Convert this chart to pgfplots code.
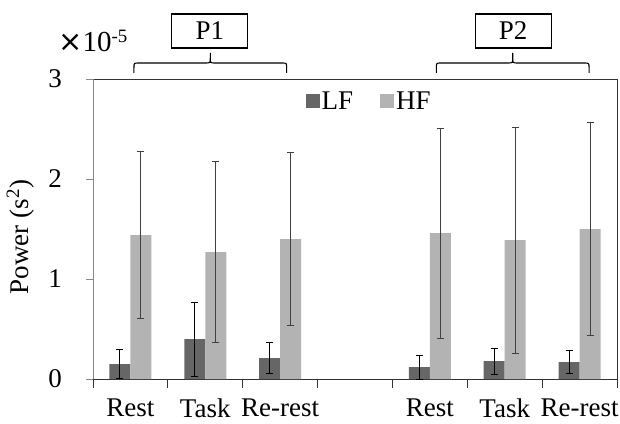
\documentclass[border=0pt]{standalone}
\usepackage{fontspec}
\setmainfont{Liberation Serif}
\newfontfamily\djsans{DejaVu Sans}
\usepackage{pgfplots}
\pgfplotsset{compat=1.18}
\usetikzlibrary{calc}
\definecolor{lf}{HTML}{666666}
\definecolor{hf}{HTML}{B3B3B3}
\definecolor{axgray}{HTML}{888888}

\pgfplotstableread{
x y e
0 0.15 0.145
1 0.40 0.37
2 0.21 0.155
4 0.12 0.12
5 0.18 0.13
6 0.17 0.115
}\lfdata
\pgfplotstableread{
x y e
0 1.44 0.835
1 1.27 0.905
2 1.40 0.865
4 1.46 1.05
5 1.39 1.13
6 1.50 1.065
}\hfdata

\begin{document}
\begin{tikzpicture}[font=\fontsize{27}{32}\selectfont]
\begin{axis}[
  name=ax,
  scale only axis, width=524pt, height=300pt,
  xmin=-0.5, xmax=6.5, ymin=0, ymax=3,
  clip=false,
  ybar=0pt, bar width=21pt,
  xtick={0,1,2,4,5,6},
  xticklabels={Rest,Task,Re-rest,Rest,Task,Re-rest},
  major x tick style={draw=none},
  minor xtick={-0.5,0.5,1.5,2.5,3.5,4.5,5.5,6.5},
  minor tick length=9pt,
  ytick={0,1,2,3},
  major tick length=7pt,
  tick align=outside, tick pos=left,
  y tick style={axgray, line width=0.8pt},
  x tick style={black!80, line width=0.8pt},
  axis line style={black!80, line width=0.8pt},
  /pgf/number format/assume math mode=true,
  xticklabel style={inner sep=0pt, yshift=-13pt},
  yticklabel style={inner sep=0pt, xshift=-24pt},
  legend style={at={(axis cs:3.19,2.78)}, anchor=center, draw=none, fill=none,
    legend columns=2, /tikz/every even column/.append style={column sep=25pt},
    nodes={inner sep=2pt},
    font=\fontsize{27}{32}\selectfont},
  legend image code/.code={\fill[#1] (0pt,-7pt) rectangle (14pt,7pt);},
]
\addplot[fill=lf, draw=none,
  error bars/.cd, y dir=both, y explicit,
  error bar style={black, line width=0.9pt},
  error mark options={rotate=90, black, mark size=3.5pt, line width=0.9pt}]
  table[x=x, y=y, y error=e] {\lfdata};
\addplot[fill=hf, draw=none,
  error bars/.cd, y dir=both, y explicit,
  error bar style={black!75, line width=0.9pt},
  error mark options={rotate=90, black!75, mark size=3.5pt, line width=0.9pt}]
  table[x=x, y=y, y error=e] {\hfdata};
\legend{LF,HF}

\draw[axgray, line width=0.9pt] (rel axis cs:0,0) -- (rel axis cs:0,1);
\coordinate (O) at (rel axis cs:0,0);

% brackets
\draw[line width=1.1pt] (axis cs:0.047,3.06) -- (axis cs:0.047,3.11) .. controls (axis cs:0.047,3.16) .. (axis cs:0.11,3.16)
  -- (axis cs:1.00,3.16) .. controls (axis cs:1.067,3.16) .. (axis cs:1.067,3.21) -- (axis cs:1.067,3.26)
  (axis cs:1.067,3.21) .. controls (axis cs:1.067,3.16) .. (axis cs:1.13,3.16)
  -- (axis cs:2.02,3.16) .. controls (axis cs:2.087,3.16) .. (axis cs:2.087,3.11) -- (axis cs:2.087,3.06);
\draw[line width=1.1pt] (axis cs:4.087,3.06) -- (axis cs:4.087,3.11) .. controls (axis cs:4.087,3.16) .. (axis cs:4.15,3.16)
  -- (axis cs:5.04,3.16) .. controls (axis cs:5.107,3.16) .. (axis cs:5.107,3.21) -- (axis cs:5.107,3.26)
  (axis cs:5.107,3.21) .. controls (axis cs:5.107,3.16) .. (axis cs:5.17,3.16)
  -- (axis cs:6.06,3.16) .. controls (axis cs:6.127,3.16) .. (axis cs:6.127,3.11) -- (axis cs:6.127,3.06);
\node[draw, line width=1.2pt, minimum width=76pt, minimum height=34pt, inner sep=0pt] at (axis cs:1.06,3.48) {P1};
\node[draw, line width=1.2pt, minimum width=76pt, minimum height=34pt, inner sep=0pt] at (axis cs:5.113,3.48) {P2};
\node[anchor=base west, inner sep=0pt] at (axis cs:-0.967,3.27) {{\djsans\fontsize{29}{34}\selectfont ×}{\fontsize{29}{34}\selectfont 10}\textsuperscript{-5}};
\node[rotate=90, anchor=base, inner sep=0pt] at (axis cs:-1.367,1.42) {Power (s\textsuperscript{2})};
\end{axis}
\pgfresetboundingbox
\path ($(O)+(-93pt,-44pt)$) rectangle ($(O)+(527pt,379pt)$);
\end{tikzpicture}
\end{document}
